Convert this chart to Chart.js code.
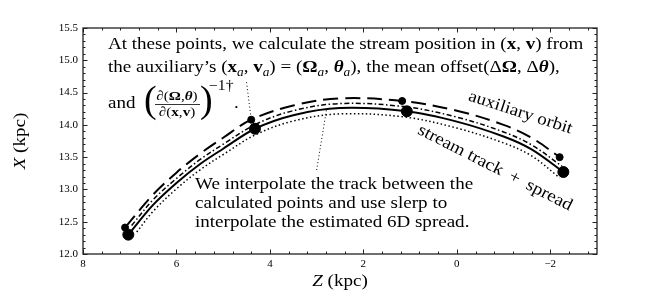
<!DOCTYPE html>
<html>
<head>
<meta charset="utf-8">
<script src="https://cdn.jsdelivr.net/npm/chart.js@4/dist/chart.umd.min.js"></script>
<style>body{margin:0;background:#fff}</style>
</head>
<body>
<canvas id="chart" width="664" height="290"></canvas>
<script>
const SERIF = '"Liberation Serif", "DejaVu Serif", serif';
const SX = 1.12; // widen the Times-like face towards the look of the original text

// axis ticks
const zTicks = [8, 6, 4, 2, 0, -2];
const xTicks = [12.0, 12.5, 13.0, 13.5, 14.0, 14.5, 15.0, 15.5];

// stream track (solid)
const trackZ = [7.03, 6.5, 6.0, 5.5, 5.0, 4.32, 3.5, 2.5, 1.07, 0.0, -1.0, -1.6, -2.28];
const trackX = [12.30, 12.76, 13.10, 13.39, 13.63, 13.94, 14.15, 14.26, 14.21, 14.05, 13.82, 13.62, 13.27];

// auxiliary orbit (dashed)
const auxZ = [7.10, 6.5, 6.0, 5.5, 5.0, 4.40, 3.5, 2.5, 1.17, 0.0, -1.0, -1.6, -2.20];
const auxX = [12.41, 12.92, 13.26, 13.55, 13.80, 14.08, 14.30, 14.41, 14.37, 14.22, 14.00, 13.80, 13.50];

// spread around the track
const upZ = [6.96, 6.5, 6.0, 5.5, 5.0, 4.3, 3.5, 2.5, 1.1, 0.0, -1.0, -1.6, -2.25];
const upX = [12.44, 12.84, 13.17, 13.46, 13.70, 14.01, 14.22, 14.33, 14.28, 14.12, 13.89, 13.69, 13.36];
const loZ = [6.85, 6.5, 6.0, 5.5, 5.0, 4.3, 3.5, 2.5, 1.1, 0.0, -1.0, -1.6, -2.2];
const loX = [12.34, 12.66, 13.01, 13.30, 13.54, 13.85, 14.06, 14.17, 14.12, 13.95, 13.72, 13.52, 13.18];

// calculated points
const trackNodeZ = [7.03, 4.32, 1.07, -2.28];
const trackNodeX = [12.30, 13.94, 14.21, 13.27];
const auxNodeZ = [7.10, 4.40, 1.17, -2.20];
const auxNodeX = [12.41, 14.08, 14.37, 13.50];

// dotted leader lines from the notes
const leader1Z = [4.50, 4.40];
const leader1X = [14.66, 14.08];
const leader2Z = [3.00, 2.79];
const leader2X = [13.30, 14.23];

function pts(zs, xs) {
    return zs.map((z, i) => ({ x: z, y: xs[i] }));
}

function fontFor(style, size) {
    if (style === 'b') return `bold ${size}px ${SERIF}`;
    if (style === 'bi') return `italic bold ${size}px ${SERIF}`;
    if (style === 'i') return `italic ${size}px ${SERIF}`;
    if (style === 'sub') return `italic ${size * 0.7}px ${SERIF}`;
    return `${size}px ${SERIF}`;
}

function runsWidth(ctx, runs, size) {
    let w = 0;
    for (const [t, s] of runs) {
        ctx.font = fontFor(s, size);
        w += ctx.measureText(t).width;
    }
    return w * SX;
}

// draws a row of text pieces with mixed fonts, stretched by SX
function drawRuns(ctx, x, y, runs, size) {
    ctx.save();
    ctx.translate(x, y);
    ctx.scale(SX, 1);
    let cx = 0;
    for (const [t, s] of runs) {
        ctx.font = fontFor(s, size);
        ctx.fillText(t, cx, s === 'sub' ? size * 0.22 : 0);
        cx += ctx.measureText(t).width;
    }
    ctx.restore();
}

const decor = {
    id: 'decor',
    afterDraw(chart) {
        const { ctx, chartArea: a, scales: { x, y } } = chart;
        ctx.save();
        ctx.strokeStyle = '#222';
        ctx.fillStyle = '#000';
        ctx.lineWidth = 1.3;
        ctx.strokeRect(a.left, a.top, a.right - a.left, a.bottom - a.top);

        // inward ticks on all sides
        ctx.lineWidth = 1;
        ctx.beginPath();
        for (let k = -7; k <= 20; k++) {
            const v = k * 0.4;
            if (v < x.min || v > x.max) continue;
            const major = Math.abs(v / 2 - Math.round(v / 2)) < 1e-6;
            const len = major ? 4.5 : 2.5;
            const px = Math.round(x.getPixelForValue(v)) + 0.5;
            ctx.moveTo(px, a.bottom); ctx.lineTo(px, a.bottom - len);
            ctx.moveTo(px, a.top); ctx.lineTo(px, a.top + len);
        }
        for (let k = 120; k <= 155; k++) {
            const v = k / 10;
            const len = k % 5 === 0 ? 4.5 : 2.5;
            const py = Math.round(y.getPixelForValue(v)) + 0.5;
            ctx.moveTo(a.left, py); ctx.lineTo(a.left + len, py);
            ctx.moveTo(a.right, py); ctx.lineTo(a.right - len, py);
        }
        ctx.stroke();

        ctx.textBaseline = 'alphabetic';
        ctx.textAlign = 'left';
        ctx.strokeStyle = '#000';
        const fs = 17;

        // upper note
        drawRuns(ctx, 108, 49, [
            ['At these points, we calculate the stream position in (', 'n'],
            ['x', 'b'], [', ', 'n'], ['v', 'b'], [') from', 'n']
        ], fs);
        drawRuns(ctx, 108, 72, [
            ['the auxiliary\u2019s (', 'n'], ['x', 'b'], ['a', 'sub'], [', ', 'n'],
            ['v', 'b'], ['a', 'sub'], [') = (', 'n'], ['\u03A9', 'b'], ['a', 'sub'],
            [', ', 'n'], ['\u03B8', 'bi'], ['a', 'sub'], ['), the mean offset(\u0394', 'n'],
            ['\u03A9', 'b'], [', \u0394', 'n'], ['\u03B8', 'bi'], ['),', 'n']
        ], fs);
        drawRuns(ctx, 108, 108, [['and', 'n']], fs);
        ctx.font = `38px ${SERIF}`;
        ctx.fillText('(', 144, 112);
        ctx.fillText(')', 200, 112);
        const num = [['\u2202(', 'n'], ['\u03A9', 'b'], [',', 'n'], ['\u03B8', 'bi'], [')', 'n']];
        const den = [['\u2202(', 'n'], ['x', 'b'], [',', 'n'], ['v', 'b'], [')', 'n']];
        const fcx = 177, ffs = 13.5;
        drawRuns(ctx, fcx - runsWidth(ctx, num, ffs) / 2, 100, num, ffs);
        drawRuns(ctx, fcx - runsWidth(ctx, den, ffs) / 2, 116, den, ffs);
        ctx.lineWidth = 0.8;
        ctx.beginPath();
        ctx.moveTo(155, 104.5); ctx.lineTo(200, 104.5);
        ctx.stroke();
        drawRuns(ctx, 209, 90, [['\u22121\u2020', 'n']], 14);
        drawRuns(ctx, 234, 108, [['.', 'n']], fs);

        // lower note
        drawRuns(ctx, 195, 189, [['We interpolate the track between the', 'n']], fs);
        drawRuns(ctx, 195, 208, [['calculated points and use slerp to', 'n']], fs);
        drawRuns(ctx, 195, 227, [['interpolate the estimated 6D spread.', 'n']], fs);

        // curve labels
        const lab1 = [['auxiliary orbit', 'n']];
        ctx.save();
        ctx.translate(519, 117);
        ctx.rotate(18 * Math.PI / 180);
        drawRuns(ctx, -runsWidth(ctx, lab1, fs) / 2, 0, lab1, fs);
        ctx.restore();
        const lab2 = [['stream track \u2009+\u2009 spread', 'n']];
        ctx.save();
        ctx.translate(493, 172);
        ctx.rotate(27 * Math.PI / 180);
        drawRuns(ctx, -runsWidth(ctx, lab2, fs) / 2, 0, lab2, fs);
        ctx.restore();

        // axis titles
        const xt = [['Z', 'i'], [' (kpc)', 'n']];
        drawRuns(ctx, 340 - runsWidth(ctx, xt, fs) / 2, 286, xt, fs);
        const yt = [['X', 'i'], [' (kpc)', 'n']];
        ctx.save();
        ctx.translate(25, 141);
        ctx.rotate(-Math.PI / 2);
        drawRuns(ctx, -runsWidth(ctx, yt, fs) / 2, 0, yt, fs);
        ctx.restore();
        ctx.restore();
    }
};

const lineBase = { showLine: true, pointRadius: 0, borderColor: '#000', backgroundColor: '#000', tension: 0.35, fill: false };

new Chart(document.getElementById('chart'), {
    type: 'scatter',
    data: {
        datasets: [
            { ...lineBase, data: pts(auxZ, auxX), borderWidth: 2, borderDash: [15, 7] },
            { ...lineBase, data: pts(upZ, upX), borderWidth: 1.5, borderDash: [5, 2.5, 1.5, 2.5] },
            { ...lineBase, data: pts(trackZ, trackX), borderWidth: 2 },
            { ...lineBase, data: pts(loZ, loX), borderWidth: 1.5, borderDash: [1.5, 2.5] },
            { ...lineBase, data: pts(leader1Z, leader1X), borderWidth: 1, borderDash: [1, 2.5], tension: 0 },
            { ...lineBase, data: pts(leader2Z, leader2X), borderWidth: 1, borderDash: [1, 2.5], tension: 0 },
            { data: pts(auxNodeZ, auxNodeX), pointRadius: 3.5, backgroundColor: '#000', borderColor: '#000', showLine: false },
            { data: pts(trackNodeZ, trackNodeX), pointRadius: 5.5, backgroundColor: '#000', borderColor: '#000', showLine: false }
        ]
    },
    options: {
        responsive: false,
        animation: false,
        layout: { padding: { top: 28, right: 67, left: 0, bottom: 0 } },
        plugins: { legend: { display: false }, tooltip: { enabled: false } },
        scales: {
            x: {
                type: 'linear', reverse: true, min: -3, max: 8,
                grid: { display: false, drawTicks: false },
                border: { display: false },
                afterBuildTicks: s => { s.ticks = zTicks.map(v => ({ value: v })); },
                afterFit: s => { s.height = 36; },
                ticks: {
                    padding: 4, color: '#000', font: { family: SERIF, size: 11 },
                    callback: v => v < 0 ? '\u2212' + Math.abs(v) : String(v)
                }
            },
            y: {
                type: 'linear', min: 12, max: 15.5,
                grid: { display: false, drawTicks: false },
                border: { display: false },
                afterBuildTicks: s => { s.ticks = xTicks.map(v => ({ value: v })); },
                afterFit: s => { s.width = 83; },
                ticks: {
                    padding: 5, color: '#000', font: { family: SERIF, size: 11 },
                    callback: v => v.toFixed(1)
                }
            }
        }
    },
    plugins: [decor]
});
</script>
</body>
</html>
